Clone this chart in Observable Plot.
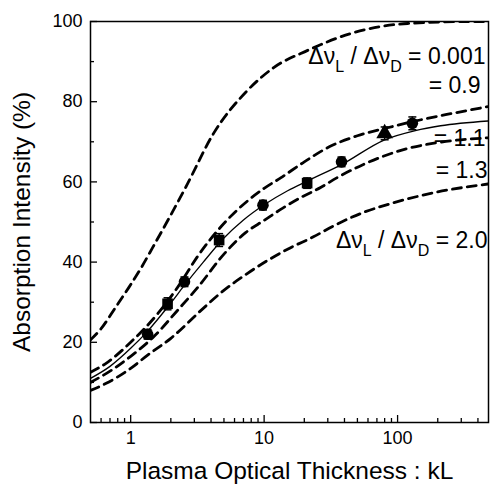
<!DOCTYPE html>
<html><head><meta charset="utf-8">
<script src="https://cdn.jsdelivr.net/npm/d3@7"></script>
<script src="https://cdn.jsdelivr.net/npm/@observablehq/plot@0.6"></script>
<style>body{margin:0;background:#fff} svg{display:block}</style>
</head><body><div id="chart"></div>
<script>
// ---- measured data points ----
const kL = [1.34, 1.89, 2.53, 4.6, 9.8, 21, 38, 80, 129];
const absorption = [22.0, 29.6, 35.1, 45.5, 54.2, 59.7, 65.0, 72.1, 74.6];
const errorBar = [1.2, 1.5, 1.2, 1.6, 1.2, 1.3, 1.2, 1.6, 1.6];
const markers = ["circle", "square", "circle", "square", "circle", "square", "circle", "triangle", "circle"];

// ---- calculated curves (ΔνL/ΔνD) ----
const thickness0001 = [0.5, 0.6, 0.77, 0.97, 1.19, 1.46, 2.58, 4.18, 7.5, 11.8, 21.2, 44.5, 119, 370, 480];
const intensity0001 = [20.6, 23.4, 28.7, 33.7, 38.4, 43.6, 58.6, 72.1, 82.8, 88.5, 92.8, 97.0, 99.5, 100, 100];

const thickness09 = [0.5, 0.65, 1.0, 1.6, 2.3, 3.2, 4.8, 7.6, 10, 13.3, 20, 31, 50, 84, 150, 250, 480];
const intensity09 = [12.5, 14.7, 20.0, 27.2, 34.2, 41.6, 49.0, 55.4, 58.4, 61.0, 65.0, 68.8, 71.5, 73.5, 75.5, 77.0, 78.8];

const thickness11 = [0.5, 0.7, 1.0, 1.34, 2, 2.5, 3.5, 5, 7, 10, 15, 21, 38, 80, 136, 210, 480];
const intensity11 = [11, 14, 18.5, 22.8, 29.8, 34, 40, 46, 50.5, 54.3, 57.8, 60.2, 64.3, 70.5, 72.8, 74, 75.2];

const thickness13 = [0.5, 0.7, 1.0, 1.5, 2.25, 3.2, 5, 7.3, 10, 13.7, 18.8, 26.5, 35, 55, 118, 200, 480];
const intensity13 = [10, 12.8, 16.5, 21.5, 28, 33.8, 42, 47.4, 50.4, 53.4, 56.1, 58.6, 61, 64.3, 68.3, 69.8, 71];

const thickness20 = [0.5, 0.65, 1, 1.34, 2, 3.35, 5.1, 7, 10.6, 15.8, 23.4, 33, 55.6, 89, 200, 480];
const intensity20 = [8, 9.7, 13.5, 16.8, 21, 27.9, 33.2, 36.5, 40.4, 43.6, 46.3, 49, 52.4, 54.6, 57.5, 59.5];

// ---- ticks & labels ----
const xMajorTicks = [1, 10, 100];
const xMinorTicks = [0.6, 0.7, 0.8, 0.9, 2, 3, 4, 5, 6, 7, 8, 9, 20, 30, 40, 50, 60, 70, 80, 90, 200, 300, 400];
const yMajorTicks = [0, 20, 40, 60, 80, 100];
const yMinorTicks = [10, 30, 50, 70, 90];
const xTitle = "Plasma Optical Thickness : kL";
const yTitle = "Absorption Intensity (%)";
const ratioLabels = ["Δν_L / Δν_D = 0.001", "= 0.9", "= 1.1", "= 1.3", "Δν_L / Δν_D = 2.0"];

// ---- build tables ----
const points = kL.map((x, i) => ({x, y: absorption[i], err: errorBar[i], marker: markers[i]}));
const toRows = (xs, ys) => xs.map((x, i) => ({x, y: ys[i]}));
const dashedCurves = [
  toRows(thickness0001, intensity0001),
  toRows(thickness09, intensity09),
  toRows(thickness13, intensity13),
  toRows(thickness20, intensity20)
];
const solidCurve = toRows(thickness11, intensity11);

const W = 490, H = 487, mT = 21, mR = 2, mB = 65, mL = 90;
const innerW = W - mL - mR, innerH = H - mT - mB;

const capSymbol = {draw(ctx) { ctx.moveTo(-4, 0); ctx.lineTo(4, 0); }};
const labelDy = [35, 64, 117, 149, 219];
const labelDx = [-3, -8, -3, -1, -1];

const plot = Plot.plot({
  width: W, height: H,
  marginTop: mT, marginRight: mR, marginBottom: mB, marginLeft: mL,
  style: {fontFamily: "'Liberation Sans', Arial, Helvetica, sans-serif", color: "black", background: "white", overflow: "visible"},
  x: {type: "log", domain: [0.5, 480]},
  y: {domain: [0, 100]},
  marks: [
    ...dashedCurves.map(c => Plot.line(c, {x: "x", y: "y", curve: "monotone-x", stroke: "black", strokeWidth: 2.8, strokeDasharray: "9,6", clip: true})),
    Plot.line(solidCurve, {x: "x", y: "y", curve: "monotone-x", stroke: "black", strokeWidth: 1.3, clip: true}),
    Plot.ruleX(points, {x: "x", y1: d => d.y - d.err, y2: d => d.y + d.err, stroke: "black", strokeWidth: 1.5}),
    Plot.dot(points, {x: "x", y: d => d.y - d.err, symbol: capSymbol, stroke: "black", fill: "none", strokeWidth: 1.5}),
    Plot.dot(points, {x: "x", y: d => d.y + d.err, symbol: capSymbol, stroke: "black", fill: "none", strokeWidth: 1.5}),
    Plot.dot(points.filter(d => d.marker === "circle"), {x: "x", y: "y", symbol: "circle", fill: "black", r: 5.8}),
    Plot.dot(points.filter(d => d.marker === "square"), {x: "x", y: "y", symbol: "square", fill: "black", r: 6}),
    Plot.dot(points.filter(d => d.marker === "triangle"), {x: "x", y: "y", symbol: "triangle", fill: "black", r: 6.2}),
    Plot.frame({stroke: "black", strokeWidth: 1.5}),
    Plot.tickX(xMajorTicks, {x: d => d, insetTop: innerH - 7, stroke: "black", strokeWidth: 1.3}),
    Plot.tickX(xMinorTicks, {x: d => d, insetTop: innerH - 4, stroke: "black", strokeWidth: 1.3}),
    Plot.tickY(yMajorTicks, {y: d => d, insetRight: innerW - 7, stroke: "black", strokeWidth: 1.3}),
    Plot.tickY(yMinorTicks, {y: d => d, insetRight: innerW - 4, stroke: "black", strokeWidth: 1.3}),
    Plot.axisX({ticks: xMajorTicks, tickSize: 0, tickPadding: 9, tickFormat: d => String(d), fontSize: 18, label: null}),
    Plot.axisY({ticks: yMajorTicks, tickSize: 0, tickPadding: 8, tickFormat: d => String(d), fontSize: 18, label: null}),
    Plot.text([xTitle], {frameAnchor: "bottom", lineAnchor: "middle", dy: 49, fontSize: 24.5, fill: "black"}),
    Plot.text([yTitle], {frameAnchor: "left", textAnchor: "middle", lineAnchor: "middle", dx: -68, rotate: -90, fontSize: 24.5, fill: "black"}),
    ...ratioLabels.map((t, i) => Plot.text([t], {frameAnchor: "top-right", textAnchor: "end", lineAnchor: "middle", dx: labelDx[i], dy: labelDy[i], fontSize: 23, fill: "black"}))
  ]
});

// subscripts for ΔνL / ΔνD
const svgns = "http://www.w3.org/2000/svg";
plot.querySelectorAll("text").forEach(t => {
  const s = t.textContent;
  if (!s.includes("_")) return;
  const parts = s.split(/_(\w)/);
  t.textContent = "";
  parts.forEach((p, i) => {
    const ts = document.createElementNS(svgns, "tspan");
    ts.textContent = p;
    if (i % 2 === 1) { ts.setAttribute("dy", "8"); ts.setAttribute("font-size", "16"); }
    else if (i > 0) { ts.setAttribute("dy", "-8"); }
    t.appendChild(ts);
  });
});

document.getElementById("chart").appendChild(plot);
</script></body></html>
